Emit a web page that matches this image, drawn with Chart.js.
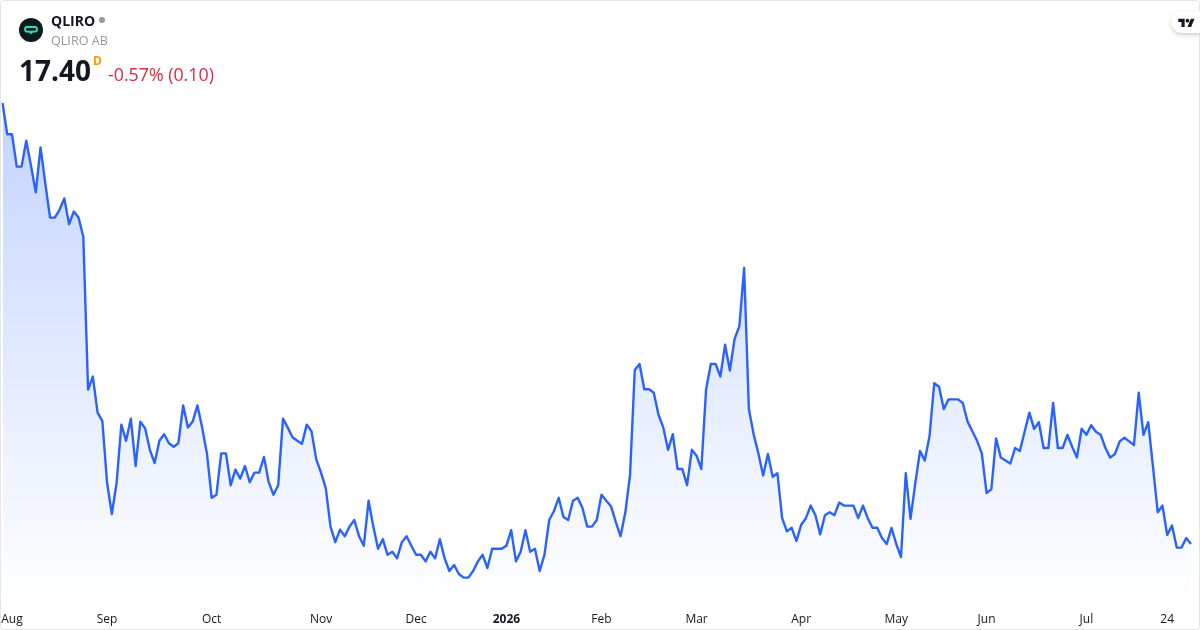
<!DOCTYPE html>
<html>
<head>
<meta charset="utf-8">
<script src="https://cdn.jsdelivr.net/npm/chart.js@4"></script>
<style>
html,body{margin:0;padding:0;background:#fff;width:1200px;height:630px;overflow:hidden}
body{font-family:"Open Sans",sans-serif;position:relative}
#card{position:absolute;left:0;top:0;width:1198px;height:628px;border:1px solid #e6e6e6;border-radius:4px}
#wrap{position:absolute;left:0;top:0;width:1200px;height:630px}
.t{position:absolute;white-space:nowrap;line-height:1}
#pill{position:absolute;left:1171px;top:11px;width:29px;height:22px;background:#fff;border-radius:11px 0 0 11px;box-shadow:0 2px 4px rgba(0,0,0,.2)}
</style>
</head>
<body>
<div id="card"></div>
<div id="wrap"><canvas id="c" width="1200" height="630" style="width:1200px;height:630px;display:block"></canvas></div>
<svg style="position:absolute;left:19px;top:18px" width="24" height="24" viewBox="0 0 24 24">
  <circle cx="12" cy="12" r="12" fill="#0f1a20"/>
  <rect x="6" y="9" width="12" height="4.6" rx="2" fill="none" stroke="#2ee6b0" stroke-width="1.8"/>
  <path d="M9.8 14h4.4l-2.2 2.2z" fill="#2ee6b0"/>
</svg>
<div class="t" style="left:51px;top:14px;font-size:14px;font-weight:700;color:#131722">QLIRO</div>
<div style="position:absolute;left:99px;top:17px;width:6px;height:6px;border-radius:50%;background:#9598a1"></div>
<div class="t" style="left:51px;top:35px;font-size:12.6px;color:#9598a1">QLIRO AB</div>
<div class="t" style="left:19px;top:56px;font-size:28px;font-weight:700;color:#131722">17.40</div>
<div class="t" style="left:93px;top:55px;font-size:12px;font-weight:700;color:#ff9800">D</div>
<div class="t" style="left:108px;top:66px;font-size:17.8px;color:#dc2a3e">-0.57% (0.10)</div>
<div id="pill"><svg style="position:absolute;left:6.5px;top:6px" width="17" height="11" viewBox="0 0 36 24"><path d="M14 22H7V11H0V4h14v18zM28 22h-8l7.5-18h8L28 22z" fill="#131722"/><circle cx="20" cy="8" r="4" fill="#131722"/></svg></div>
<script>
const priceValues = [
24.75,24.23,24.23,23.69,23.69,24.12,23.70,23.26,24.01,23.41,
22.84,22.84,22.97,23.16,22.73,22.94,22.84,22.52,19.97,20.19,
19.59,19.45,18.42,17.90,18.42,19.39,19.12,19.49,18.70,19.44,
19.33,18.97,18.75,19.12,19.23,19.08,19.02,19.08,19.71,19.34,
19.44,19.71,19.34,18.91,18.17,18.22,18.91,18.91,18.38,18.64,
18.49,18.70,18.43,18.59,18.59,18.85,18.43,18.22,18.38,19.49,
19.34,19.18,19.12,19.07,19.39,19.28,18.81,18.59,18.33,17.69,
17.43,17.64,17.53,17.69,17.80,17.53,17.37,18.12,17.69,17.32,
17.48,17.22,17.27,17.16,17.43,17.53,17.37,17.22,17.22,17.11,
17.27,17.16,17.48,17.16,16.95,17.05,16.90,16.84,16.84,16.95,
17.11,17.22,17.00,17.32,17.32,17.32,17.37,17.63,17.11,17.27,
17.63,17.27,17.32,16.95,17.22,17.80,17.95,18.17,17.85,17.80,
18.12,18.17,18.00,17.69,17.69,17.80,18.22,18.12,18.03,17.77,
17.53,17.92,18.55,20.30,20.40,19.98,19.98,19.92,19.55,19.34,
18.97,19.23,18.65,18.65,18.38,18.97,18.87,18.65,19.98,20.40,
20.40,20.19,20.72,20.29,20.82,21.03,22.00,19.65,19.23,18.91,
18.54,18.90,18.52,18.58,17.83,17.61,17.67,17.45,17.72,17.83,
18.04,17.88,17.56,17.88,17.93,17.88,18.09,18.04,18.04,18.04,
17.83,18.04,17.83,17.67,17.67,17.50,17.40,17.67,17.40,17.18,
18.58,17.82,18.41,18.95,18.79,19.20,20.08,20.02,19.65,19.81,
19.81,19.81,19.75,19.44,19.28,19.12,18.91,18.25,18.31,19.16,
18.84,18.79,18.74,19.00,18.95,19.27,19.59,19.32,19.43,19.00,
19.00,19.75,19.00,19.00,19.22,19.02,18.84,19.32,19.22,19.38,
19.27,19.22,19.00,18.84,18.90,19.11,19.17,19.11,19.05,19.92,
19.22,19.43,18.69,17.93,18.04,17.55,17.71,17.34,17.34,17.50,
17.40];
const tickLabels  = ["Aug","Sep","Oct","Nov","Dec","2026","Feb","Mar","Apr","May","Jun","Jul","24"];
const tickIndexes = [2,22,44,67,87,106,126,146,168,188,207,228,245];
const categories = priceValues.map((_, i) => {
  const k = tickIndexes.indexOf(i);
  return k >= 0 ? tickLabels[k] : "";
});
new Chart(document.getElementById("c"), {
  type: "line",
  data: {
    labels: categories,
    datasets: [{
      data: priceValues,
      borderColor: "#2962ff",
      borderWidth: 2.4,
      pointRadius: 0,
      tension: 0,
      borderJoinStyle: "round",
      fill: "start",
      backgroundColor(ctx) {
        const a = ctx.chart.chartArea;
        if (!a) return "rgba(41,98,255,.2)";
        const g = ctx.chart.ctx.createLinearGradient(0, a.top, 0, a.bottom);
        g.addColorStop(0, "rgba(41,98,255,0.28)");
        g.addColorStop(1, "rgba(41,98,255,0)");
        return g;
      }
    }]
  },
  options: {
    responsive: false,
    animation: false,
    events: [],
    layout: { padding: { left: 2.5, right: 9, top: 100, bottom: 0 } },
    plugins: { legend: { display: false }, tooltip: { enabled: false } },
    scales: {
      x: {
        offset: false,
        grid: { display: false },
        border: { display: false },
        afterFit(s) { s.height = 26; },
        ticks: {
          autoSkip: false, maxRotation: 0, minRotation: 0, padding: 0,
          color: "#131722",
          font(ctx) {
            const bold = ctx.tick && ctx.tick.label === "2026";
            return { family: "'Open Sans'", size: 12, weight: bold ? "700" : "400" };
          }
        }
      },
      y: { display: false, min: 16.4, max: 24.8 }
    }
  }
});
</script>
</body>
</html>
